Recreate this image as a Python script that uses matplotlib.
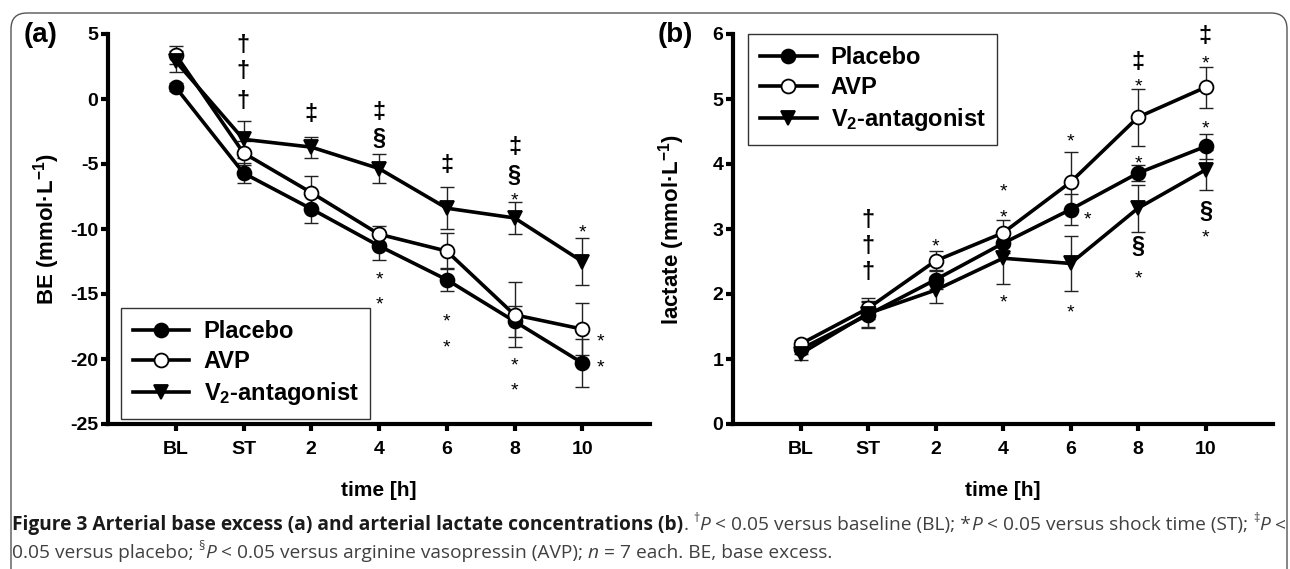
import matplotlib
matplotlib.use('Agg')
import matplotlib.pyplot as plt
from matplotlib.patches import FancyBboxPatch

# time points (x positions are just 1..7)
times = ['BL', 'ST', '2', '4', '6', '8', '10']

# (a) base excess, mmol/L
be_placebo = [0.9, -5.7, -8.45, -11.3, -13.9, -17.1, -20.3]
be_placebo_err = [0.3, 0.75, 1.1, 1.1, 0.9, 1.2, 1.85]
be_avp = [3.4, -4.15, -7.2, -10.4, -11.7, -16.6, -17.7]
be_avp_err = [0.7, 0.9, 1.25, 0.65, 1.4, 2.5, 2.0]
be_v2 = [2.9, -3.1, -3.7, -5.35, -8.4, -9.15, -12.5]
be_v2_err = [0.8, 1.4, 0.8, 1.1, 1.6, 1.25, 1.8]

# (b) lactate, mmol/L
lac_placebo = [1.15, 1.68, 2.22, 2.78, 3.3, 3.86, 4.27]
lac_placebo_err = [0.07, 0.2, 0.15, 0.15, 0.24, 0.12, 0.19]
lac_avp = [1.23, 1.78, 2.51, 2.94, 3.72, 4.72, 5.18]
lac_avp_err = [0.07, 0.16, 0.15, 0.2, 0.46, 0.44, 0.32]
lac_v2 = [1.08, 1.7, 2.06, 2.55, 2.47, 3.32, 3.91]
lac_v2_err = [0.1, 0.2, 0.2, 0.39, 0.42, 0.36, 0.31]

# significance marks: (x, y, symbol)
be_marks = [(2, 4.1, '†'), (2, 2.1, '†'), (2, -0.2, '†'),
            (3, -1.2, '‡'),
            (4, -1.0, '‡'), (4, -3.0, '§'),
            (5, -5.1, '‡'),
            (6, -3.7, '‡'), (6, -5.85, '§'), (6, -7.3, '*'),
            (7, -9.8, '*'),
            (4, -13.4, '*'), (4, -15.3, '*'),
            (5, -16.6, '*'), (5, -18.6, '*'),
            (6, -20.0, '*'), (6, -21.9, '*'),
            (7.27, -18.2, '*'), (7.27, -20.2, '*')]
lac_marks = [(2, 3.13, '†'), (2, 2.73, '†'), (2, 2.33, '†'),
             (3, 2.83, '*'),
             (4, 3.68, '*'), (4, 3.28, '*'), (4, 1.96, '*'),
             (5, 4.45, '*'), (5.25, 3.24, '*'), (5, 1.82, '*'),
             (6, 5.57, '‡'), (6, 5.29, '*'), (6, 4.11, '*'), (6, 2.73, '§'), (6, 2.34, '*'),
             (7, 5.96, '‡'), (7, 5.65, '*'), (7, 4.64, '*'), (7, 3.27, '§'), (7, 2.96, '*')]

labels = ['Placebo', 'AVP', 'V$_2$-antagonist']

W, H = 1290, 569
plt.rcParams['font.family'] = 'Liberation Sans'
plt.rcParams['font.weight'] = 'bold'
plt.rcParams['mathtext.fontset'] = 'custom'
plt.rcParams['mathtext.rm'] = 'Liberation Sans:bold'
plt.rcParams['mathtext.bf'] = 'Liberation Sans:bold'
plt.rcParams['mathtext.it'] = 'Liberation Sans:bold:italic'
plt.rcParams['axes.unicode_minus'] = False

fig = plt.figure(figsize=(W / 100, H / 100), dpi=100)


def fx(px):
    return px / W


def fy(py):
    return 1 - py / H


def panel(rect, series, ylim, yticks, marks, ylabel, tag, tagx, leg_loc, leg_anchor):
    ax = fig.add_axes(rect)
    x = list(range(1, 8))
    styles = [dict(marker='o', mfc='black'), dict(marker='o', mfc='white'), dict(marker='v', mfc='black')]
    handles = []
    for (y, e), st, lab in zip(series, styles, labels):
        ax.errorbar(x, y, yerr=e, fmt='none', ecolor='#222222', elinewidth=1, capsize=5, capthick=1, zorder=1)
        h, = ax.plot(x, y, color='black', lw=2.6, ms=10, mec='black', mew=1.3, zorder=3, label=lab, **st)
        handles.append(h)
    for mx, my, s in marks:
        if s == '*':
            ax.annotate(s, (mx, my), xytext=(0, -0.58 * 14), textcoords='offset points',
                        ha='center', va='baseline', fontsize=14, fontweight='normal')
        else:
            ax.annotate(s, (mx, my), xytext=(0, -0.28 * 17), textcoords='offset points',
                        ha='center', va='baseline', fontsize=17, fontweight='bold')
    ax.set_xlim(0, 8)
    ax.set_ylim(*ylim)
    ax.set_xticks(x)
    ax.set_xticklabels(times)
    ax.set_yticks(yticks)
    ax.set_yticklabels([str(t) for t in yticks])
    for s in ['top', 'right']:
        ax.spines[s].set_visible(False)
    for s in ['left', 'bottom']:
        ax.spines[s].set_linewidth(3)
    ax.tick_params(axis='both', direction='out', length=5, width=3, labelsize=14)
    ax.tick_params(axis='x', pad=7)
    ax.tick_params(axis='y', pad=2)
    leg = ax.legend(handles=handles, loc=leg_loc, bbox_to_anchor=leg_anchor, borderaxespad=0,
                    prop={'weight': 'bold', 'size': 17}, handlelength=2.4, handletextpad=0.6,
                    labelspacing=0.3, borderpad=0.5, fancybox=False, framealpha=1)
    leg.get_frame().set_edgecolor('#333333')
    leg.get_frame().set_linewidth(1)
    cx = rect[0] + rect[2] / 2
    fig.text(cx, fy(490), 'time [h]', ha='center', va='center', fontsize=15, fontweight='bold')
    fig.text(rect[0] - fx(61), rect[1] + rect[3] / 2, ylabel, rotation=90, ha='center', va='center',
             fontsize=16, fontweight='bold')
    fig.text(fx(tagx), fy(35), tag, ha='center', va='center', fontsize=20, fontweight='bold')
    return ax


top, bot = fy(34), fy(424)
panel([fx(108), bot, fx(650 - 108), top - bot],
      [(be_placebo, be_placebo_err), (be_avp, be_avp_err), (be_v2, be_v2_err)],
      (-25, 5), [5, 0, -5, -10, -15, -20, -25], be_marks,
      'BE (mmol·L$^{-1}$)', '(a)', 41, 'lower left', (0.024, 0.013))
panel([fx(733), bot, fx(1273 - 733), top - bot],
      [(lac_placebo, lac_placebo_err), (lac_avp, lac_avp_err), (lac_v2, lac_v2_err)],
      (0, 6), [0, 1, 2, 3, 4, 5, 6], lac_marks,
      'lactate (mmol·L$^{-1}$)', '(b)', 675, 'upper left', (0.028, 1.0))

# frame around the figure (open at the bottom)
frame = FancyBboxPatch((11 / 100, -0.5), (1287 - 11) / 100, (H - 13) / 100 + 0.5,
                       boxstyle='round,pad=0,rounding_size=0.16', transform=fig.dpi_scale_trans,
                       fill=False, edgecolor='#555555', linewidth=1)
fig.patches.append(frame)

# caption, drawn piece by piece
cap_fam = 'Open Sans'
line1 = [('Figure 3 Arterial base excess (a) and arterial lactate concentrations (b)', 'b'), ('. ', 'n'),
         ('†', 'sup'), ('P', 'i'), (' < 0.05 versus baseline (BL); *', 'n'), ('P', 'i'),
         (' < 0.05 versus shock time (ST); ', 'n'), ('‡', 'sup'), ('P', 'i'), (' <', 'n')]
line2 = [('0.05 versus placebo; ', 'n'), ('§', 'sup'), ('P', 'i'),
         (' < 0.05 versus arginine vasopressin (AVP); ', 'n'), ('n', 'i'), (' = 7 each. BE, base excess.', 'n')]

renderer = fig.canvas.get_renderer()


def piece_kw(style, fs):
    kw = dict(family=cap_fam, fontsize=fs, color='#404040', fontweight='normal', fontstyle='normal')
    if style == 'b':
        kw.update(fontweight='bold', color='#1a1a1a')
    elif style == 'i':
        kw.update(fontstyle='italic')
    elif style == 'sup':
        kw.update(fontsize=fs * 0.65)
    return kw


def width_of(s, kw):
    t = fig.text(0, 0, s, **kw)
    w = t.get_window_extent(renderer).width
    t.remove()
    return w


def draw_line(pieces, x0, yb, fs, draw=True):
    xpos = x0
    sp = width_of('a a', piece_kw('n', fs)) - width_of('aa', piece_kw('n', fs))
    for s, style in pieces:
        kw = piece_kw(style, fs)
        core = s.strip()
        xpos += sp * (len(s) - len(s.lstrip()))
        if core:
            dy = fs * 0.42 * 100 / 72 if style == 'sup' else 0
            if draw:
                fig.text(fx(xpos), fy(yb - dy), core, ha='left', va='baseline', **kw)
            xpos += width_of(core, kw)
        xpos += sp * (len(s) - len(s.rstrip()))
    return xpos


# first line should end near x=1281
fs = 11.0
for _ in range(3):
    end = draw_line(line1, 12, 530, fs, draw=False)
    fs = fs * (1281 - 12) / (end - 12)
draw_line(line1, 12, 530, fs)
draw_line(line2, 12, 558, fs)

fig.savefig('out.png', dpi=100)
